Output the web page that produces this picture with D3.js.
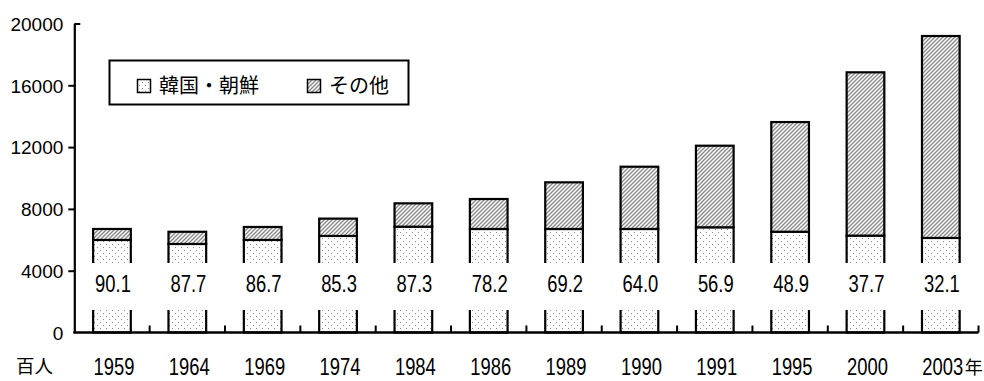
<!DOCTYPE html>
<html><head><meta charset="utf-8">
<script src="https://cdn.jsdelivr.net/npm/d3@7"></script>
<style>
html,body{margin:0;padding:0;background:#fff;}
svg{display:block;}
</style>
</head><body>
<svg id="chart" width="984" height="381"></svg>
<script>
const years = ["1959","1964","1969","1974","1984","1986","1989","1990","1991","1995","2000","2003"];
const korea = [5990,5730,5990,6250,6850,6700,6700,6700,6810,6520,6270,6120];
const other = [710,790,840,1120,1510,1940,3020,4030,5280,7100,10570,13070];
const shares = ["90.1","87.7","86.7","85.3","87.3","78.2","69.2","64.0","56.9","48.9","37.7","32.1"];
const yTicks = [0,4000,8000,12000,16000,20000];
const seriesNames = ["韓国・朝鮮","その他"];
const unitLabel = "百人";
const yearSuffix = "年";

const svg = d3.select("#chart");
const defs = svg.append("defs");

// dotted pattern
const pd = defs.append("pattern").attr("id","dots").attr("patternUnits","userSpaceOnUse")
  .attr("width",6).attr("height",6);
pd.append("rect").attr("width",6).attr("height",6).attr("fill","#fff");
pd.append("rect").attr("x",1).attr("y",1).attr("width",1).attr("height",1).attr("fill","#8c8c8c");
pd.append("rect").attr("x",4).attr("y",4).attr("width",1).attr("height",1).attr("fill","#8c8c8c");

// hatch pattern
const ph = defs.append("pattern").attr("id","hatch").attr("patternUnits","userSpaceOnUse")
  .attr("width",4).attr("height",4);
ph.append("rect").attr("width",4).attr("height",4).attr("fill","#fff");
ph.append("path").attr("d","M-1,1 l2,-2 M0,4 l4,-4 M3,5 l2,-2")
  .attr("stroke","#8a8a8a").attr("stroke-width",1.4);

const fills = ["url(#dots)","url(#hatch)"];

const x = d3.scaleBand().domain(years).range([74.3, 978.5]).paddingInner(0.5).paddingOuter(0.25);
const y = d3.scaleLinear().domain([0,20000]).range([332.5, 23.5]);
const bw = x.bandwidth();

const rows = years.map((yr,i)=>({year:yr, korea:korea[i], other:other[i]}));
const stack = d3.stack().keys(["korea","other"])(rows);

// bars
const gBars = svg.append("g");
stack.forEach((layer,li)=>{
  gBars.selectAll(null).data(layer).enter().append("rect")
    .attr("x", d=>x(d.data.year))
    .attr("y", d=>y(d[1]))
    .attr("width", bw)
    .attr("height", d=>y(d[0])-y(d[1]))
    .attr("fill", fills[li])
    .attr("stroke","#000").attr("stroke-width",2.2);
});

// label boxes + labels
const labelTop = 263, labelBottom = 310;
const gLab = svg.append("g");
gLab.selectAll(null).data(years).enter().append("rect")
  .attr("x", d=>x(d)-3).attr("width", bw+6)
  .attr("y", labelTop).attr("height", labelBottom-labelTop)
  .attr("fill","#fff");
gLab.selectAll(null).data(years).enter().append("text")
  .attr("transform", d=>`translate(${x(d)+bw/2+1},291.5) scale(0.8,1)`)
  .attr("text-anchor","middle")
  .attr("font-family","Liberation Sans, Arial, sans-serif")
  .attr("font-size",23)
  .attr("fill","#000")
  .text((d,i)=>shares[i]);

// y axis
const yAxis = d3.axisLeft(y).tickValues(yTicks).tickSize(6).tickSizeOuter(0).tickPadding(6)
  .tickFormat(d3.format("d"));
const gy = svg.append("g").attr("transform","translate(74.3,0)").call(yAxis);
gy.select(".domain").attr("stroke","#000").attr("stroke-width",2.2);
gy.selectAll(".tick line").attr("stroke","#000").attr("stroke-width",2)
  .filter(d=>d===20000).attr("x2",6);
gy.selectAll(".tick line").filter(d=>d===0).remove();
gy.selectAll(".tick text").attr("font-family","Liberation Sans, Arial, sans-serif")
  .attr("font-size",19).attr("fill","#000").attr("dy","0.36em").attr("x",-11);

// x axis line
const y0 = y(0);
const [xr0, xr1] = x.range();
svg.append("line").attr("x1",xr0-1).attr("x2",xr1).attr("y1",y0).attr("y2",y0)
  .attr("stroke","#000").attr("stroke-width",2.4);
svg.append("g").selectAll("line").data(years).enter().append("line")
  .attr("x1", d=>x(d)+bw+(x.step()-bw)/2).attr("x2", d=>x(d)+bw+(x.step()-bw)/2)
  .attr("y1", y0).attr("y2", y0-7)
  .attr("stroke","#000").attr("stroke-width",2);

// x labels
svg.append("g").selectAll("text").data(years).enter().append("text")
  .attr("transform", d=>`translate(${x(d)+bw/2+2},375) scale(0.8,1)`)
  .attr("text-anchor","middle")
  .attr("font-family","Liberation Sans, Arial, sans-serif")
  .attr("font-size",23).attr("fill","#000")
  .text(d=>d);
const last = years[years.length-1];
svg.append("text")
  .attr("x", x(last)+bw/2+2+22).attr("y",374)
  .attr("font-family","Noto Sans CJK JP, sans-serif").attr("font-size",18).attr("fill","#000")
  .text(yearSuffix);

svg.append("text").attr("x",16).attr("y",373)
  .attr("font-family","Noto Sans CJK JP, sans-serif").attr("font-size",18.5).attr("fill","#000")
  .text(unitLabel);

// legend
const lg = svg.append("g");
lg.append("rect").attr("x",109.5).attr("y",60.5).attr("width",299).attr("height",44)
  .attr("fill","#fff").attr("stroke","#000").attr("stroke-width",2);
const legX = [137,307];
seriesNames.forEach((nm,i)=>{
  lg.append("rect").attr("x",legX[i]+0.5).attr("y",79.5).attr("width",13).attr("height",13)
    .attr("fill",fills[i]).attr("stroke","#000").attr("stroke-width",1.5);
  lg.append("text").attr("x",legX[i]+22).attr("y",93)
    .attr("font-family","Noto Sans CJK JP, sans-serif").attr("font-size",20).attr("fill","#000")
    .text(nm);
});
</script>
</body></html>
